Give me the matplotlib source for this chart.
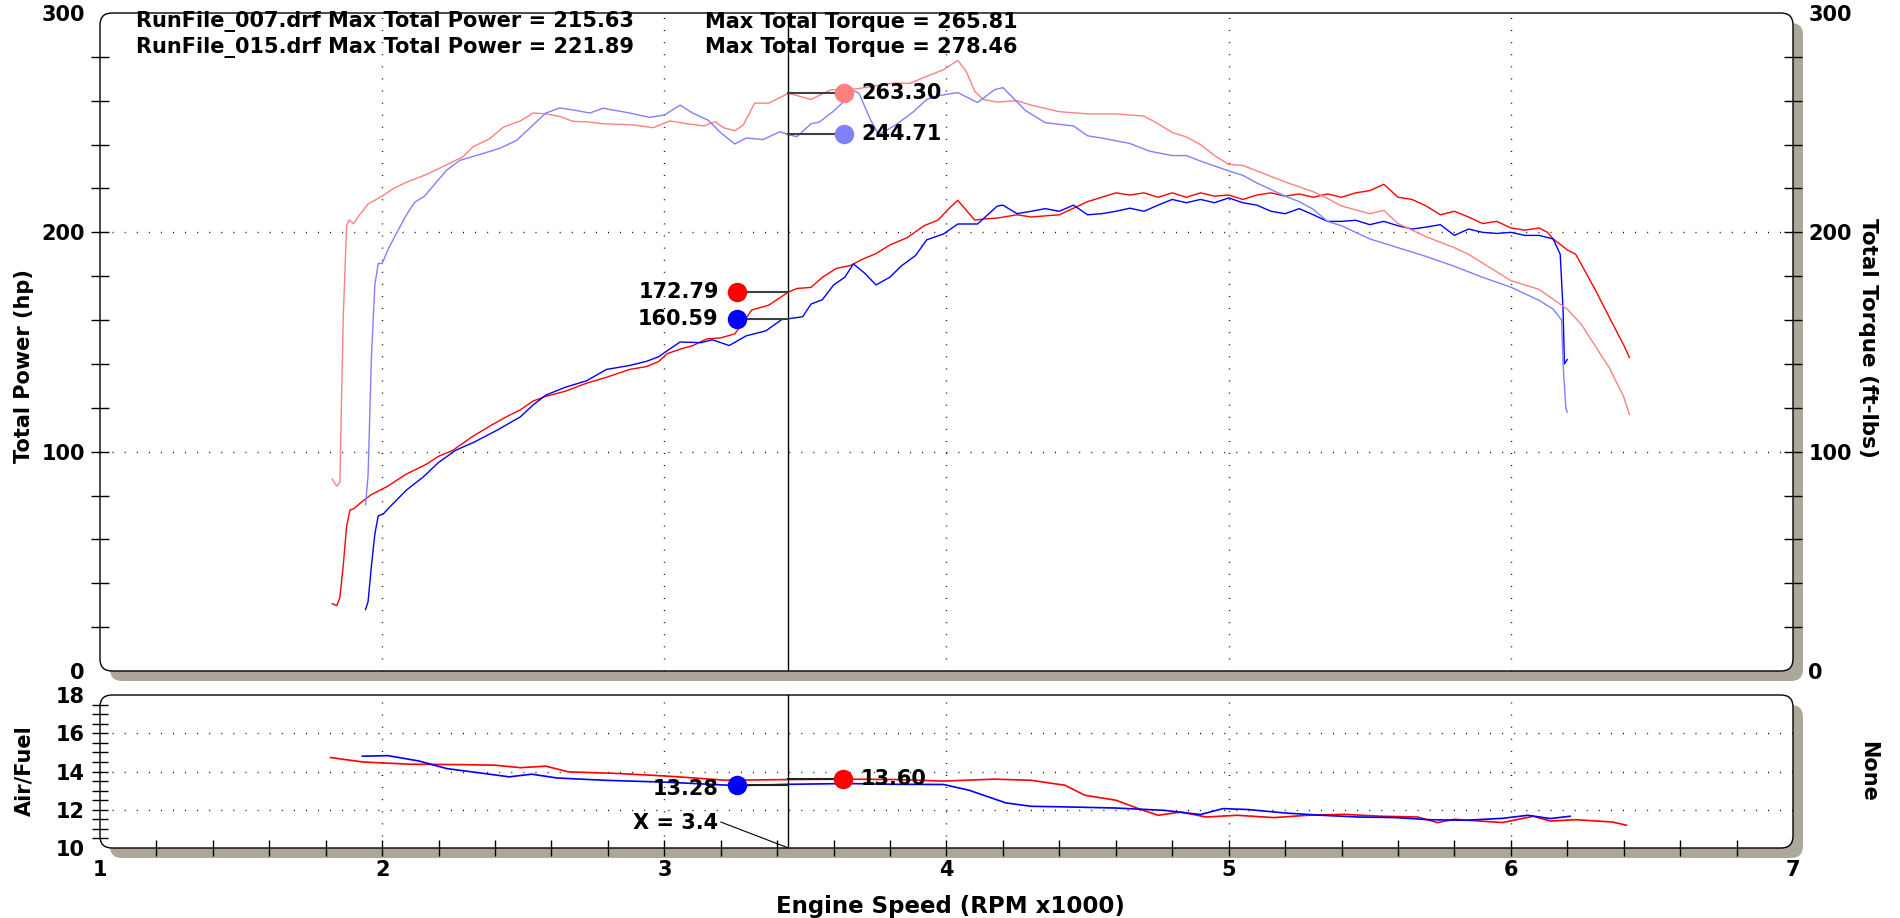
import matplotlib
matplotlib.use('Agg')
import matplotlib.pyplot as plt
from matplotlib.patches import FancyBboxPatch
import numpy as np

plt.rcParams['font.family'] = ['DejaVu Sans']
plt.rcParams['font.weight'] = 'bold'

# ---------------- data ----------------
# RunFile_015 (red) torque (ft-lbs)
rpm_tq_015 = [1.823, 1.839, 1.850, 1.862, 1.874, 1.883, 1.899, 1.920, 1.950, 2.000, 2.040, 2.086, 2.157,
              2.216, 2.287, 2.322, 2.380, 2.430, 2.490, 2.535, 2.582, 2.630, 2.676, 2.724, 2.783, 2.889,
              2.960, 3.020, 3.080, 3.140, 3.180, 3.210, 3.250, 3.280, 3.320, 3.370, 3.440, 3.520, 3.590,
              3.660, 3.730, 3.810, 3.870, 3.920, 3.990, 4.040, 4.070, 4.100, 4.130, 4.180, 4.250, 4.300,
              4.400, 4.500, 4.600, 4.700, 4.750, 4.800, 4.850, 4.900, 4.950, 5.000, 5.050, 5.100, 5.200,
              5.300, 5.350, 5.400, 5.500, 5.550, 5.600, 5.700, 5.800, 5.850, 5.900, 6.000, 6.100, 6.200,
              6.250, 6.300, 6.350, 6.400, 6.420]
tq_015 = [87.5, 84.3, 86, 161, 203, 205.6, 204, 208, 212.9, 216.5, 220, 222.8, 226.4,
          230, 234.5, 239, 242.6, 248, 250.8, 254.4, 254, 252.8, 250.6, 250.4, 249.5, 249,
          247.7, 250.8, 249.5, 248.5, 250.4, 247.7, 246.3, 249, 258.9, 258.9, 263.4, 260.6, 265,
          265, 266.4, 268, 267.9, 270.6, 274.2, 278.4, 273.3, 264.3, 260.6, 259.4, 260, 258,
          255, 254, 254, 253, 249.5, 245.5, 243.5, 240, 235, 231, 230.5, 228, 223,
          218.5, 215.5, 212, 208.5, 210, 204, 198, 193, 190, 186, 178, 174, 165,
          158, 148, 138, 125, 117]

# RunFile_007 (blue) torque (ft-lbs)
rpm_tq_007 = [1.941, 1.950, 1.962, 1.974, 1.986, 2.000, 2.020, 2.050, 2.086, 2.116, 2.150, 2.180, 2.227,
              2.275, 2.346, 2.417, 2.476, 2.535, 2.580, 2.630, 2.676, 2.736, 2.783, 2.877, 2.948, 3.000,
              3.056, 3.100, 3.156, 3.200, 3.250, 3.290, 3.350, 3.410, 3.440, 3.470, 3.520, 3.550, 3.600,
              3.630, 3.670, 3.690, 3.730, 3.760, 3.820, 3.880, 3.930, 3.980, 4.040, 4.110, 4.170, 4.200,
              4.280, 4.350, 4.450, 4.500, 4.550, 4.650, 4.720, 4.800, 4.850, 4.900, 5.000, 5.050, 5.100,
              5.200, 5.250, 5.300, 5.350, 5.400, 5.500, 5.600, 5.700, 5.800, 5.900, 6.000, 6.100, 6.150,
              6.180, 6.185, 6.195, 6.200]
tq_007 = [75.8, 89, 143.4, 176, 185.8, 185.8, 192, 199.4, 208, 213.8, 216.5, 221, 228.2,
          232.8, 235.5, 238.3, 241.9, 249, 254.4, 256.7, 255.8, 254.4, 256.6, 254.4, 252.4, 253.5,
          258, 254.4, 251.1, 245.4, 240.3, 243, 242.3, 245.9, 244.5, 243.6, 249.5, 250.3, 255.3,
          258.9, 264.6, 263.4, 251.5, 244.5, 249, 254.7, 260.6, 262.5, 263.7, 259.2, 265, 266,
          255.5, 250, 248.5, 244, 243, 240.5, 237, 235, 235, 232.5, 228, 226, 222.5,
          216.5, 214, 210.5, 205, 203, 197, 193, 189, 184.5, 179.5, 175, 169, 165,
          160, 140, 120, 118]

# RunFile_015 (red) power (hp)
rpm_hp_015 = [1.823, 1.839, 1.850, 1.862, 1.874, 1.886, 1.900, 1.920, 1.960, 2.016, 2.086, 2.157, 2.200,
              2.250, 2.320, 2.390, 2.440, 2.490, 2.535, 2.580, 2.650, 2.724, 2.795, 2.877, 2.937, 2.980,
              3.010, 3.060, 3.100, 3.150, 3.200, 3.250, 3.280, 3.310, 3.370, 3.440, 3.470, 3.520, 3.560,
              3.610, 3.660, 3.700, 3.750, 3.800, 3.860, 3.920, 3.970, 4.010, 4.040, 4.070, 4.100, 4.140,
              4.180, 4.250, 4.300, 4.400, 4.450, 4.500, 4.550, 4.600, 4.650, 4.700, 4.750, 4.800, 4.850,
              4.900, 4.950, 5.000, 5.050, 5.100, 5.150, 5.200, 5.250, 5.300, 5.350, 5.400, 5.450, 5.500,
              5.550, 5.600, 5.650, 5.700, 5.750, 5.800, 5.850, 5.900, 5.950, 6.000, 6.050, 6.100, 6.130,
              6.150, 6.200, 6.230, 6.300, 6.350, 6.400, 6.420]
hp_015 = [30.7, 29.8, 33.4, 48, 66, 73.4, 74, 76.3, 80.3, 84, 89.8, 94.3, 97.9,
          100.6, 106.9, 112.3, 115.9, 119.1, 123.1, 125.2, 127.6, 131.2, 133.9, 137.5, 138.8, 141.1,
          144.7, 146.9, 148.3, 151.4, 151.9, 153.7, 159.2, 164.6, 166.8, 172.8, 174.4, 174.9, 179.5,
          183.6, 184.9, 187.6, 190.3, 194.3, 197.5, 203, 205.6, 211, 214.6, 210.1, 205.6, 206.2,
          206.5, 208, 207, 208, 211, 214, 216, 218, 217, 218, 216, 218, 216,
          218, 216.5, 217, 215, 217, 218, 216.5, 217.5, 216, 217.5, 216, 218, 219,
          221.9, 216, 215, 212, 208, 209.6, 207, 204, 205, 202, 201, 202, 200,
          197, 192, 190, 173.6, 161, 148.6, 143]

# RunFile_007 (blue) power (hp)
rpm_hp_007 = [1.941, 1.950, 1.962, 1.974, 1.986, 2.004, 2.030, 2.086, 2.145, 2.200, 2.260, 2.330, 2.410,
              2.490, 2.535, 2.580, 2.650, 2.724, 2.795, 2.877, 2.937, 2.980, 3.010, 3.056, 3.130, 3.170,
              3.230, 3.290, 3.360, 3.420, 3.440, 3.490, 3.520, 3.560, 3.600, 3.640, 3.670, 3.710, 3.750,
              3.800, 3.840, 3.890, 3.930, 3.990, 4.040, 4.110, 4.180, 4.200, 4.250, 4.300, 4.350, 4.400,
              4.450, 4.500, 4.550, 4.600, 4.650, 4.700, 4.750, 4.800, 4.850, 4.900, 4.950, 5.000, 5.050,
              5.100, 5.150, 5.200, 5.250, 5.300, 5.350, 5.400, 5.450, 5.500, 5.550, 5.600, 5.650, 5.700,
              5.750, 5.800, 5.850, 5.900, 5.950, 6.000, 6.050, 6.100, 6.150, 6.175, 6.185, 6.190, 6.200]
hp_007 = [28, 31.6, 48, 62.4, 70.7, 71.6, 75.2, 82.5, 88.4, 95.1, 100.6, 104.6, 110,
          115.9, 121.3, 125.8, 129.4, 132.3, 137.5, 139.3, 141.2, 143.3, 146, 150, 149.7, 151,
          148.4, 152.8, 155.1, 160.6, 160.6, 161.5, 167.3, 169.3, 176, 179.6, 185.6, 181.4, 176,
          179.6, 184.7, 189.4, 196.6, 199.3, 203.8, 203.8, 212, 212.4, 208.5, 209.6, 210.8, 209.6,
          212.4, 208, 208.5, 209.6, 211, 209.6, 212.4, 215, 213.5, 215, 213.5, 215.7, 213.5,
          212.4, 209.6, 208.5, 210.8, 208, 205, 205, 205.5, 203.5, 205, 203, 201.5, 202.4,
          203.5, 198.6, 201.5, 200, 199.5, 200, 198.6, 198.6, 197, 190, 165, 140, 142]

# Air/Fuel
rpm_afr_015 = [1.817, 1.93, 2.10, 2.28, 2.40, 2.49, 2.58, 2.66, 2.83, 2.96, 3.05, 3.22, 3.44, 3.63,
               3.82, 3.99, 4.17, 4.30, 4.42, 4.49, 4.60, 4.68, 4.75, 4.83, 4.92, 5.03, 5.16, 5.28,
               5.41, 5.54, 5.67, 5.74, 5.80, 5.97, 6.08, 6.14, 6.23, 6.36, 6.41]
afr_015 = [14.73, 14.5, 14.38, 14.36, 14.33, 14.2, 14.28, 13.98, 13.9, 13.8, 13.72, 13.54, 13.58, 13.6,
           13.58, 13.5, 13.6, 13.54, 13.28, 12.76, 12.5, 12.06, 11.71, 11.88, 11.62, 11.71, 11.59, 11.71,
           11.76, 11.66, 11.62, 11.33, 11.5, 11.33, 11.66, 11.41, 11.48, 11.36, 11.19]
rpm_afr_007 = [1.93, 2.02, 2.13, 2.23, 2.36, 2.45, 2.53, 2.62, 2.79, 3.01, 3.26, 3.44, 3.65, 3.82,
               3.99, 4.08, 4.21, 4.30, 4.42, 4.60, 4.77, 4.90, 4.98, 5.07, 5.20, 5.33, 5.46, 5.59,
               5.71, 5.84, 5.97, 6.06, 6.14, 6.21]
afr_007 = [14.8, 14.83, 14.55, 14.15, 13.9, 13.72, 13.86, 13.66, 13.54, 13.44, 13.26, 13.33, 13.37, 13.33,
           13.32, 13.02, 12.36, 12.18, 12.15, 12.09, 11.97, 11.75, 12.06, 12.01, 11.83, 11.71, 11.62, 11.59,
           11.48, 11.45, 11.55, 11.71, 11.54, 11.66]

header_lines = [("RunFile_007.drf Max Total Power = 215.63", "Max Total Torque = 265.81"),
                ("RunFile_015.drf Max Total Power = 221.89", "Max Total Torque = 278.46")]
cursor_x = 3.44
cursor_label = "X = 3.4"
# cursor readouts: (x of marker, value, label, colour)
hp_marks = [(3.257, 172.79, '172.79', '#ff0000'), (3.257, 160.59, '160.59', '#0000ff')]
tq_marks = [(3.636, 263.30, '263.30', '#ff8080'), (3.636, 244.71, '244.71', '#8080ff')]
afr_marks = [(3.257, 13.28, '13.28', '#0000ff', 'left'), (3.633, 13.60, '13.60', '#ff0000', 'right')]

# ---------------- figure ----------------
W, H = 1900, 918
fig = plt.figure(figsize=(19, 9.18), dpi=100)

bg = fig.add_axes([0, 0, 1, 1], zorder=0)
bg.set_xlim(0, W)
bg.set_ylim(H, 0)
bg.axis('off')

TOP = (100, 13, 1793, 671)
BOT = (100, 695, 1793, 848)
SHADOW = '#aca899'
for (l, t, r, b) in (TOP, BOT):
    bg.add_patch(FancyBboxPatch((l + 10, t + 10), r - l, b - t,
                                boxstyle='round,pad=0,rounding_size=12', fc=SHADOW, ec='none'))
    bg.add_patch(FancyBboxPatch((l, t), r - l, b - t,
                                boxstyle='round,pad=0,rounding_size=12', fc='white', ec='black', lw=1.0))


def px_rect(l, t, r, b):
    return [l / W, 1 - b / H, (r - l) / W, (b - t) / H]


DOT = (0, (0.7, 8))
FS = 15

# ---- top panel
ax = fig.add_axes(px_rect(*TOP), zorder=1)
ax.set_xlim(1, 7)
ax.set_ylim(0, 300)
ax.patch.set_visible(False)
for s in ax.spines.values():
    s.set_visible(False)
ax.set_xticks([])
ax.set_yticks([0, 100, 200, 300])
ax.set_yticks(np.arange(20, 300, 20), minor=True)
ax.yaxis.remove_overlapping_locs = False
ax.tick_params(axis='y', which='major', length=0, labelsize=FS, pad=11)
ax.tick_params(axis='y', which='minor', direction='inout', length=13, width=1)

ax2 = ax.twinx()
ax2.set_zorder(2)
ax2.set_ylim(0, 300)
ax2.patch.set_visible(False)
for s in ax2.spines.values():
    s.set_visible(False)
ax2.set_yticks([0, 100, 200, 300])
ax2.set_yticks(np.arange(20, 300, 20), minor=True)
ax2.yaxis.remove_overlapping_locs = False
ax2.tick_params(axis='y', which='major', length=0, labelsize=FS, pad=11)
ax2.tick_params(axis='y', which='minor', direction='inout', length=13, width=1)

for gx in [2, 3, 4, 5, 6]:
    ax.axvline(gx, color='black', lw=1, ls=DOT)
for gy in [100, 200]:
    ax.axhline(gy, color='black', lw=1, ls=DOT)

ax.plot(rpm_hp_015, hp_015, color='#ff0000', lw=1.0)
ax.plot(rpm_hp_007, hp_007, color='#0000ff', lw=1.0)
ax2.plot(rpm_tq_015, tq_015, color='#ff8080', lw=1.0)
ax2.plot(rpm_tq_007, tq_007, color='#8080ff', lw=1.0)

ax2.plot([cursor_x, cursor_x], [0, 300], color='black', lw=1.0)

for (mx, v, s, c) in hp_marks:
    ax2.plot([mx, cursor_x], [v, v], color='#404040', lw=1.5)
    ax2.plot([mx], [v], 'o', ms=13, color=c, mec=c)
    ax2.annotate(s, (mx, v), xytext=(-13, 0), textcoords='offset points',
                 ha='right', va='center', fontsize=FS, fontweight='bold')
for (mx, v, s, c) in tq_marks:
    ax2.plot([cursor_x, mx], [v, v], color='#404040', lw=1.5)
    ax2.plot([mx], [v], 'o', ms=13, color=c, mec=c)
    ax2.annotate(s, (mx, v), xytext=(13, 0), textcoords='offset points',
                 ha='left', va='center', fontsize=FS, fontweight='bold')

# ---- bottom panel
axb = fig.add_axes(px_rect(*BOT), zorder=1)
axb.set_xlim(1, 7)
axb.set_ylim(10, 18)
axb.patch.set_visible(False)
for s in axb.spines.values():
    s.set_visible(False)
axb.set_yticks([10, 12, 14, 16, 18])
axb.set_yticks(np.arange(10.5, 18, 0.5), minor=True)
axb.set_xticks([1, 2, 3, 4, 5, 6, 7])
axb.set_xticks(np.arange(1.2, 6.9, 0.2), minor=True)
axb.yaxis.remove_overlapping_locs = False
axb.xaxis.remove_overlapping_locs = False
axb.tick_params(axis='both', which='major', length=0, labelsize=FS)
axb.tick_params(axis='y', which='major', pad=11)
axb.tick_params(axis='x', which='major', pad=9)
axb.tick_params(axis='both', which='minor', direction='inout', length=12, width=1)

for gx in [2, 3, 4, 5, 6]:
    axb.axvline(gx, color='black', lw=1, ls=DOT)
for gy in [12, 14, 16]:
    axb.axhline(gy, color='black', lw=1, ls=DOT)

axb.plot(rpm_afr_015, afr_015, color='#ff0000', lw=1.2)
axb.plot(rpm_afr_007, afr_007, color='#0000ff', lw=1.2)
axb.axvline(cursor_x, color='black', lw=1.0)

for (mx, v, s, c, side) in afr_marks:
    axb.plot([min(mx, cursor_x), max(mx, cursor_x)], [v, v], color='#202020', lw=1.5)
    axb.plot([mx], [v], 'o', ms=13, color=c, mec=c)
    if side == 'left':
        axb.annotate(s, (mx, v), xytext=(-13, -3), textcoords='offset points',
                     ha='right', va='center', fontsize=FS, fontweight='bold')
    else:
        axb.annotate(s, (mx, v), xytext=(13, 0), textcoords='offset points',
                     ha='left', va='center', fontsize=FS, fontweight='bold')

axb.annotate(cursor_label, xy=(cursor_x, 10), xytext=(3.19, 11.31), ha='right', va='center',
             fontsize=FS, fontweight='bold',
             arrowprops=dict(arrowstyle='-', color='black', lw=0.8, shrinkA=0, shrinkB=0,
                             relpos=(1.0, 0.6)))

# ---- header and axis titles
for i, (a, b) in enumerate(header_lines):
    y = 22 + 25 * i
    bg.text(136, y, a, ha='left', va='center', fontsize=FS, fontweight='bold')
    bg.text(705, y, b, ha='left', va='center', fontsize=FS, fontweight='bold')

bg.text(24, 366, 'Total Power (hp)', rotation=90, ha='center', va='center', fontsize=FS, fontweight='bold')
bg.text(1868, 338, 'Total Torque (ft-lbs)', rotation=270, ha='center', va='center', fontsize=15.5, fontweight='bold')
bg.text(24, 771, 'Air/Fuel', rotation=90, ha='center', va='center', fontsize=FS, fontweight='bold')
bg.text(1868, 771, 'None', rotation=270, ha='center', va='center', fontsize=FS, fontweight='bold')
bg.text(950, 906, 'Engine Speed (RPM x1000)', ha='center', va='center', fontsize=16.5, fontweight='bold')

fig.savefig('out.png', dpi=100)
